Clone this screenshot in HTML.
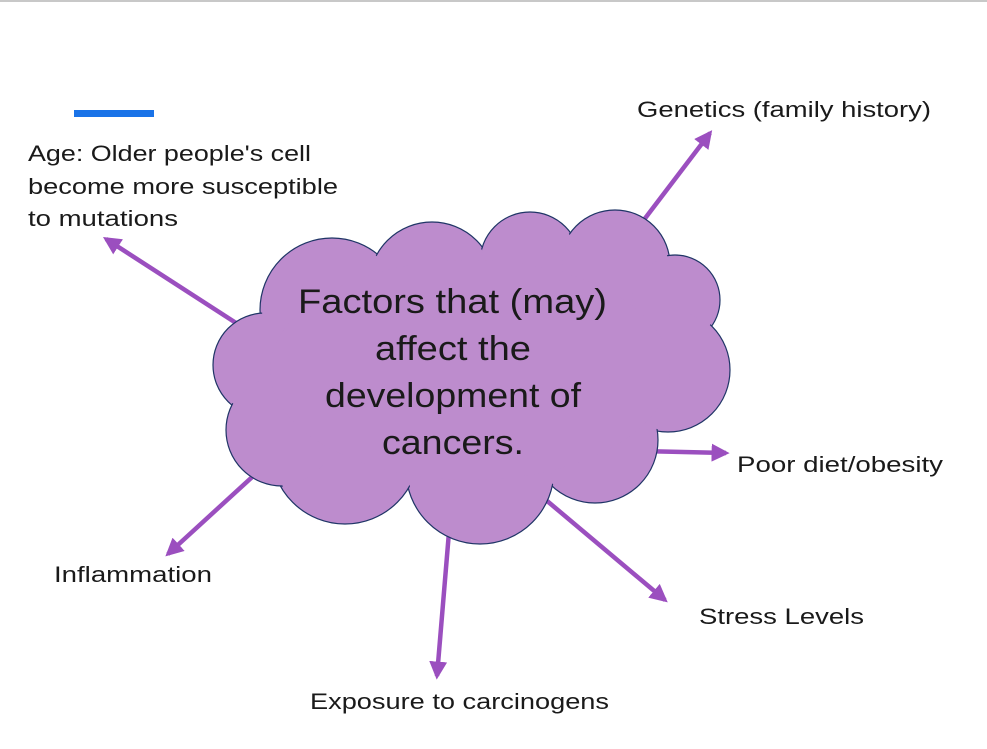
<!DOCTYPE html>
<html><head><meta charset="utf-8"><style>
html,body{margin:0;padding:0;background:#fff;width:987px;height:749px;overflow:hidden}
svg{display:block}
text{font-family:"Liberation Sans",sans-serif;fill:#1a1a1a}
</style></head><body>
<svg width="987" height="749" viewBox="0 0 987 749">
<defs><marker id="a" viewBox="0 0 10 10" refX="8" refY="5" markerWidth="4" markerHeight="4" orient="auto"><path d="M0,0 L10,5 L0,10 z" fill="#9b4fbf"/></marker></defs>
<line x1="0" y1="1" x2="987" y2="1" stroke="#c8c8c8" stroke-width="2"/>
<rect x="74" y="110" width="80" height="7" fill="#1a73e8"/>
<g stroke="#9b4fbf" stroke-width="4.5" marker-end="url(#a)">
<line x1="250" y1="332" x2="106" y2="239"/>
<line x1="640" y1="225" x2="710" y2="133"/>
<line x1="640" y1="451" x2="726" y2="453"/>
<line x1="540" y1="495" x2="665" y2="600"/>
<line x1="450" y1="520" x2="437" y2="676"/>
<line x1="262" y1="468" x2="168" y2="554"/>
</g>
<g fill="#bd8ccd" stroke="#1f3566" stroke-width="1.2">
<circle cx="332" cy="310" r="72"/>
<circle cx="432" cy="285" r="63"/>
<circle cx="530" cy="262" r="50"/>
<circle cx="615" cy="265" r="55"/>
<circle cx="675" cy="300" r="45"/>
<circle cx="668" cy="370" r="62"/>
<circle cx="595" cy="440" r="63"/>
<circle cx="480" cy="470" r="74"/>
<circle cx="345" cy="450" r="74"/>
<circle cx="265" cy="365" r="52"/>
<circle cx="282" cy="430" r="56"/>
</g>
<g fill="#bd8ccd">
<circle cx="332" cy="310" r="70"/>
<circle cx="432" cy="285" r="61"/>
<circle cx="530" cy="262" r="48"/>
<circle cx="615" cy="265" r="53"/>
<circle cx="675" cy="300" r="43"/>
<circle cx="668" cy="370" r="60"/>
<circle cx="595" cy="440" r="61"/>
<circle cx="480" cy="470" r="72"/>
<circle cx="345" cy="450" r="72"/>
<circle cx="265" cy="365" r="50"/>
<circle cx="282" cy="430" r="54"/>
<ellipse cx="470" cy="370" rx="200" ry="110"/>
</g>
<g font-size="34">
<text x="298" y="313" textLength="309" lengthAdjust="spacingAndGlyphs">Factors that (may)</text>
<text x="375" y="360" textLength="156" lengthAdjust="spacingAndGlyphs">affect the</text>
<text x="325" y="407" textLength="256" lengthAdjust="spacingAndGlyphs">development of</text>
<text x="382" y="454" textLength="142" lengthAdjust="spacingAndGlyphs">cancers.</text>
</g>
<g font-size="22">
<text x="28" y="161" textLength="283" lengthAdjust="spacingAndGlyphs">Age: Older people's cell</text>
<text x="28" y="194" textLength="310" lengthAdjust="spacingAndGlyphs">become more susceptible</text>
<text x="28" y="226" textLength="150" lengthAdjust="spacingAndGlyphs">to mutations</text>
<text x="637" y="117" textLength="294" lengthAdjust="spacingAndGlyphs">Genetics (family history)</text>
<text x="737" y="472" textLength="206" lengthAdjust="spacingAndGlyphs">Poor diet/obesity</text>
<text x="699" y="624" textLength="165" lengthAdjust="spacingAndGlyphs">Stress Levels</text>
<text x="310" y="709" textLength="299" lengthAdjust="spacingAndGlyphs">Exposure to carcinogens</text>
<text x="54" y="582" textLength="158" lengthAdjust="spacingAndGlyphs">Inflammation</text>
</g>
</svg>
</body></html>
